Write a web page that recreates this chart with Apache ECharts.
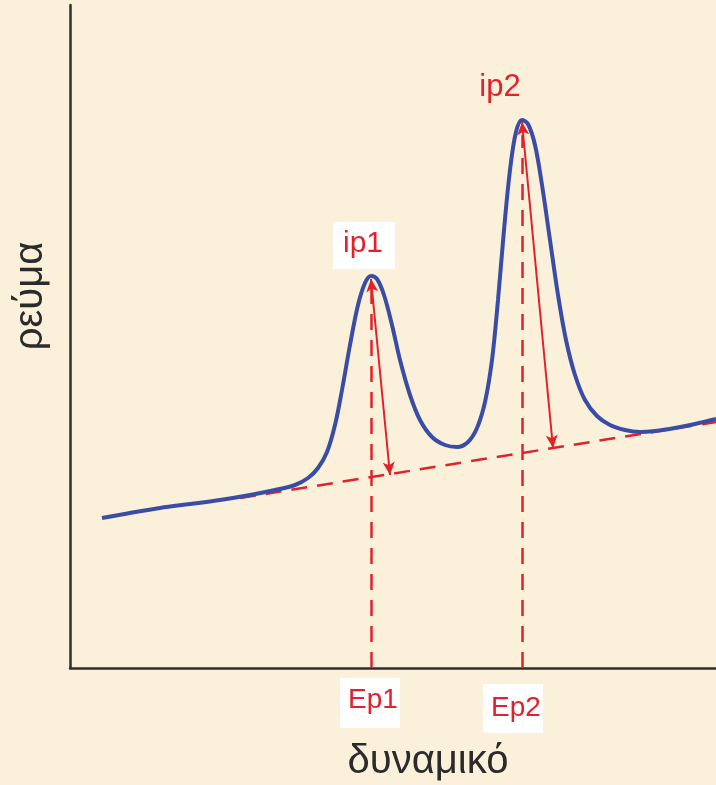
<!DOCTYPE html>
<html>
<head>
<meta charset="utf-8">
<script src="https://cdn.jsdelivr.net/npm/echarts@6/dist/echarts.min.js"></script>
<style>
html,body{margin:0;padding:0;background:#fbf1da;}
#chart{width:716px;height:785px;}
</style>
</head>
<body>
<div id="chart"></div>
<script>
// Voltammogram curve (arbitrary units)
const curveX = [32,60,90,120,150,180,205,225,238,248,257,265,272,280,288,295,301,307,314,322,330,340,350,362,375,387,398,407,415,422,428,434,440,446,452,458,465,472,480,488,496,505,515,527,540,555,570,585,605,625,646];
const curveY = [150,155,160,164,168,173,178,183,190,200,216,243,278,323,363,385,392,389,373,343,308,273,248,231,223,221,226,240,266,308,368,438,498,536,548,544,523,483,428,373,328,293,268,252,243,238,236,237,240,244,249];
// Baseline (tangent) endpoints
const baseX = [170,646];
const baseY = [170,246];
// Peak potentials and currents
const peakLabels = ['ip1','ip2'];
const potLabels = ['Ep1','Ep2'];
const peakX = [301,452];
const peakY = [389,546];
const peakDashTop = [378,533];
const baseFootX = [320,483];
const baseFootY = [193,220];
const xName = 'δυναμικό';
const yName = 'ρεύμα';

const RED = '#e1222d';
const BLUE = '#3a4da6';
const DASH = [16, 10];

const chart = echarts.init(document.getElementById('chart'));
const markLines = [];
for (let i = 0; i < peakX.length; i++) {
  markLines.push([{coord:[peakX[i], 0]}, {coord:[peakX[i], peakDashTop[i]]}]);
}
const arrowLines = [];
for (let i = 0; i < peakX.length; i++) {
  arrowLines.push([{coord:[peakX[i], peakY[i]]}, {coord:[baseFootX[i], baseFootY[i]]}]);
}

chart.setOption({
  backgroundColor: '#fbf1da',
  animation: false,
  grid: {left:70, right:0, top:5, bottom:117},
  xAxis: {type:'value', min:0, max:646, axisLine:{show:true, onZero:false, lineStyle:{color:'#2e2e2e', width:2.5}},
    axisTick:{show:false}, axisLabel:{show:false}, splitLine:{show:false}},
  yAxis: {type:'value', min:0, max:663, axisLine:{show:true, onZero:false, lineStyle:{color:'#2e2e2e', width:2.5}},
    axisTick:{show:false}, axisLabel:{show:false}, splitLine:{show:false}},
  series: [
    {type:'line', data: baseX.map((x,i)=>[x, baseY[i]]), symbol:'none',
      lineStyle:{color:RED, width:2.5, type:DASH}, z:2},
    {type:'line', data: [], symbol:'none', z:2,
      markLine:{silent:true, symbol:'none', label:{show:false},
        lineStyle:{color:RED, width:2.5, type:DASH}, data: markLines}},
    {type:'line', data: curveX.map((x,i)=>[x, curveY[i]]), symbol:'none', smooth:0.35,
      lineStyle:{color:BLUE, width:4}, z:3},
    {type:'line', data: [], symbol:'none', z:4,
      markLine:{silent:true, symbol:['arrow','arrow'], symbolSize:[9,13], label:{show:false},
        lineStyle:{color:RED, width:2, type:'solid'}, data: arrowLines}}
  ],
  graphic: [
    {type:'text', x:428, y:762, style:{text:xName, font:'40px "Liberation Sans", Arial, sans-serif', fill:'#2b2b2b', align:'center', verticalAlign:'middle'}},
    {type:'text', x:31, y:296, rotation:Math.PI/2, style:{text:yName, font:'40px "Liberation Sans", Arial, sans-serif', fill:'#2b2b2b', align:'center', verticalAlign:'middle'}},
    {type:'rect', shape:{x:333, y:222, width:62, height:47}, style:{fill:'#ffffff'}},
    {type:'text', x:363, y:244, style:{text:peakLabels[0], font:'30px "Liberation Sans", Arial, sans-serif', fill:RED, align:'center', verticalAlign:'middle'}},
    {type:'text', x:500, y:87, style:{text:peakLabels[1], font:'31px "Liberation Sans", Arial, sans-serif', fill:RED, align:'center', verticalAlign:'middle'}},
    {type:'rect', shape:{x:340, y:678, width:60, height:50}, style:{fill:'#ffffff'}},
    {type:'text', x:373, y:700, style:{text:potLabels[0], font:'28px "Liberation Sans", Arial, sans-serif', fill:RED, align:'center', verticalAlign:'middle'}},
    {type:'rect', shape:{x:483, y:684, width:60, height:49}, style:{fill:'#ffffff'}},
    {type:'text', x:516, y:708, style:{text:potLabels[1], font:'28px "Liberation Sans", Arial, sans-serif', fill:RED, align:'center', verticalAlign:'middle'}}
  ]
});
</script>
</body>
</html>
